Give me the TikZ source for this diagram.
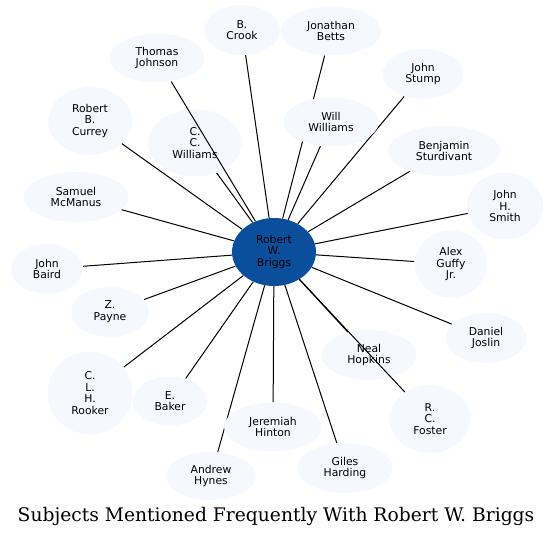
\documentclass[tikz,border=0pt]{standalone}
\usepackage{fontspec}
\newfontfamily\nodefont{DejaVu Sans}
\newfontfamily\titlefont{DejaVu Serif}
\usetikzlibrary{shapes.geometric,backgrounds}
\definecolor{centerblue}{RGB}{11,79,156}
\definecolor{paleblue}{RGB}{245,249,255}
\tikzset{
  person/.style={ellipse, fill=paleblue, inner sep=0pt, align=center,
    font=\nodefont\fontsize{10.8}{11.7}\selectfont, text=black},
  hub/.style={person, fill=centerblue},
  link/.style={draw=black, line width=1pt},
}
\begin{document}
\begin{tikzpicture}[x=1pt,y=-1pt]
\useasboundingbox (0,0) rectangle (553,537);
% hub
\node[hub, minimum width=84, minimum height=68] (rwb) at (274,252) {Robert\\W.\\Briggs};
% outer nodes
\node[person, minimum width=76, minimum height=50] (crook) at (242,30) {B.\\Crook};
\node[person, minimum width=95, minimum height=49] (tjohnson) at (157,58) {Thomas\\Johnson};
\node[person, minimum width=84, minimum height=68] (currey) at (90,121) {Robert\\B.\\Currey};
\node[person, minimum width=94, minimum height=67] (ccw) at (195,143) {C.\\C.\\Williams};
\node[person, minimum width=101, minimum height=49] (betts) at (331,31) {Jonathan\\Betts};
\node[person, minimum width=81, minimum height=50] (stump) at (423,74) {John\\Stump};
\node[person, minimum width=95, minimum height=49] (will) at (331,122) {Will\\Williams};
\node[person, minimum width=112, minimum height=50] (sturdivant) at (444,151) {Benjamin\\Sturdivant};
\node[person, minimum width=76, minimum height=67] (smith) at (505,206) {John\\H.\\Smith};
\node[person, minimum width=73, minimum height=67] (guffy) at (451,264) {Alex\\Guffy\\Jr.};
\node[person, minimum width=81, minimum height=50] (joslin) at (486,338) {Daniel\\Joslin};
\node[person, minimum width=95, minimum height=50] (hopkins) at (369,355) {Neal\\Hopkins};
\node[person, minimum width=81, minimum height=68] (foster) at (430,419) {R.\\C.\\Foster};
\node[person, minimum width=95, minimum height=50] (harding) at (345,468) {Giles\\Harding};
\node[person, minimum width=98, minimum height=49] (hinton) at (273,427) {Jeremiah\\Hinton};
\node[person, minimum width=90, minimum height=48] (hynes) at (211,476) {Andrew\\Hynes};
\node[person, minimum width=85, minimum height=83] (rooker) at (90,393) {C.\\L.\\H.\\Rooker};
\node[person, minimum width=74, minimum height=49] (baker) at (170,401) {E.\\Baker};
\node[person, minimum width=78, minimum height=50] (payne) at (110,312) {Z.\\Payne};
\node[person, minimum width=72, minimum height=50] (baird) at (47,269) {John\\Baird};
\node[person, minimum width=105, minimum height=50] (mcmanus) at (76,197) {Samuel\\McManus};
% edges drawn under the nodes
\begin{pgfonlayer}{background}
\foreach \n in {crook,currey,ccw,betts,stump,will,sturdivant,smith,guffy,joslin,hopkins,harding,hinton,hynes,rooker,baker,payne,baird,mcmanus}
  \draw[link] (rwb) -- (\n);
\end{pgfonlayer}
% edges drawn over the nodes
\draw[link] (rwb) -- (tjohnson);
\draw[link] (rwb) -- (foster);
% title
\node[font=\titlefont\fontsize{18.7}{21}\selectfont, anchor=base, inner sep=0pt] (title) at (276,521) {Subjects Mentioned Frequently With Robert W. Briggs};
\end{tikzpicture}
\end{document}
